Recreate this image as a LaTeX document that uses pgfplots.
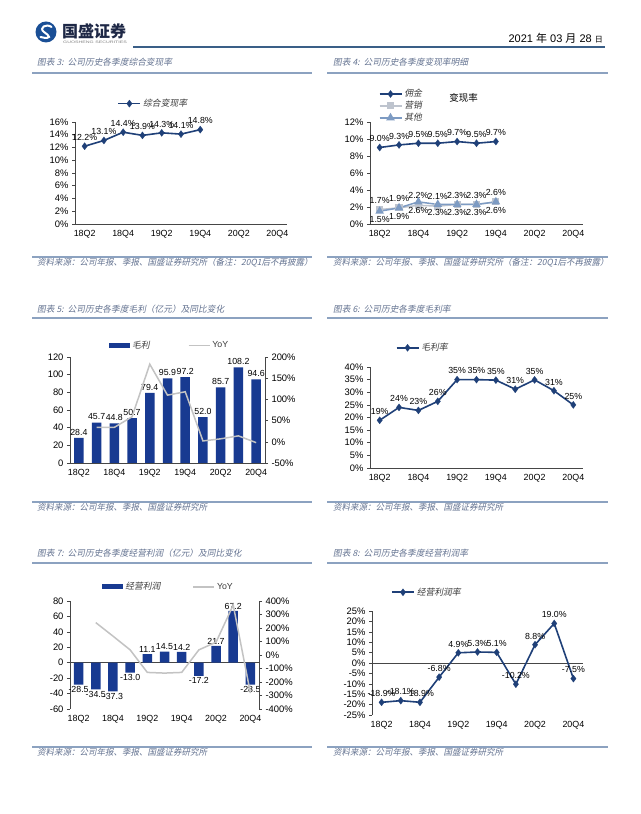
\documentclass[border=0pt]{standalone}
\usepackage{fontspec}
\usepackage{pgfplots}
\pgfplotsset{compat=1.18}
\setmainfont{Liberation Sans}
\newfontfamily\cjk{Noto Sans CJK SC}
\newfontfamily\cjkit[FakeSlant=0.2]{Noto Sans CJK SC}
\pgfkeys{/pgf/number format/assume math mode=true}

\definecolor{navy}{RGB}{31,64,120}
\definecolor{barblue}{RGB}{24,58,145}
\definecolor{yoygray}{RGB}{195,195,195}
\definecolor{mktgray}{RGB}{190,196,206}
\definecolor{othblue}{RGB}{125,155,195}
\definecolor{ttl}{RGB}{100,115,145}
\definecolor{rulec}{RGB}{140,162,192}
\definecolor{hdr}{RGB}{58,95,135}
\definecolor{axgray}{RGB}{70,70,70}
\definecolor{logoblue}{RGB}{26,79,150}
\definecolor{legtxt}{RGB}{60,60,60}

\pgfplotsset{
  qbase/.style={
    scale only axis, anchor=south west, clip=false,
    xmin=-0.5, xmax=10.5,
    xtick={0,2,...,10},
    xticklabels={18Q2,18Q4,19Q2,19Q4,20Q2,20Q4},
    axis x line*=bottom, axis y line*=left,
    tick align=outside, major tick length=3pt,
    xtick style={draw=none},
    ytick style={draw=axgray, line width=0.5pt},
    axis line style={draw=axgray, line width=0.6pt},
    yticklabel style={font=\fontsize{9.4}{10}\selectfont},
    xticklabel style={font=\fontsize{8.9}{10}\selectfont},
    legend style={draw=none, fill=none, inner sep=0pt,
      font=\cjkit\fontsize{8.8}{10}\selectfont\color{legtxt}},
    legend cell align=left,
    every node near coord/.append style={font=\fontsize{8.8}{10}\selectfont, text=black, inner sep=1.5pt},
  },
  qright/.style={
    scale only axis, anchor=south west, clip=false,
    xmin=-0.5, xmax=10.5, axis x line=none, axis y line*=right,
    tick align=outside, major tick length=3pt,
    ytick style={draw=axgray, line width=0.5pt},
    axis line style={draw=axgray, line width=0.6pt},
    yticklabel style={font=\fontsize{9.4}{10}\selectfont},
  },
  pct/.style={yticklabel={\pgfmathprintnumber[fixed,precision=0]{\tick}\%}},
  navyline/.style={draw=navy, line width=1.6pt, mark=diamond*, mark size=3.6pt,
    mark options={fill=navy, draw=navy, line width=0.2pt}},
  yoy/.style={draw=yoygray, line width=1.5pt, mark=none},
  lineleg/.style={legend image code/.code={\draw[mark repeat=2,mark phase=2,##1] plot coordinates {(0pt,0pt) (11pt,0pt) (22pt,0pt)};}},
  yoyleg/.style={legend image code/.code={\draw[##1] (0pt,0pt) -- (21pt,0pt);}},
  barleg/.style={legend image code/.code={\fill[##1] (0pt,-2.5pt) rectangle (21pt,2.5pt);}},
  up/.style={every node near coord/.append style={anchor=south, yshift=4pt}},
  pct1/.style={nodes near coords={\pgfmathprintnumber[fixed,fixed zerofill,precision=1]{\pgfplotspointmeta}\%}},
  pct0/.style={nodes near coords={\pgfmathprintnumber[fixed,precision=0]{\pgfplotspointmeta}\%}},
  num1/.style={nodes near coords={\pgfmathprintnumber[fixed,fixed zerofill,precision=1]{\pgfplotspointmeta}}},
}

\tikzset{
  ttlnode/.style={anchor=west, inner sep=0pt, text=ttl, font=\cjkit\fontsize{8.7}{9}\selectfont},
  srcnode/.style={anchor=west, inner sep=0pt, text=ttl, font=\cjkit\fontsize{8.5}{9}\selectfont},
  rule/.style={draw=rulec, line width=1.1pt},
}

\begin{document}
\begin{tikzpicture}[x=1pt,y=1pt]
\fill[white] (0,0) rectangle (640,814);
\useasboundingbox (0,0) rectangle (640,814);

% header
\fill[logoblue] (46,782) circle (10.5);
\draw[white, line width=2pt, line cap=round]
  (51.5,787) .. controls (46,791) and (38.5,786) .. (44,782)
  .. controls (49.5,778.5) and (53,774) .. (40.5,777);
\node[anchor=west, inner sep=0pt, text={rgb,255:red,30;green,40;blue,70},
  font=\cjk\bfseries\fontsize{16}{17}\selectfont] at (62,783) {国盛证券};
\node[anchor=west, inner sep=0pt, text=gray, font=\fontsize{3.5}{4}\selectfont]
  at (63,772) {\scalebox{1.5}[1]{GUOSHENG SECURITIES}};
\draw[hdr, line width=1.5pt] (133,767) -- (605,767);
\node[anchor=east, inner sep=0pt, font=\fontsize{11}{12}\selectfont]
  at (603,776) {2021 {\cjk 年} 03 {\cjk 月} 28 {\fontsize{8}{9}\selectfont\cjk 日}};

% section rules and texts
\node[ttlnode] at (37,752) {图表 3:\ \ 公司历史各季度综合变现率};
\node[ttlnode] at (333,752) {图表 4:\ \ 公司历史各季度变现率明细};
\draw[rule] (32,741) -- (312,741);
\draw[rule] (327,741) -- (608,741);
\draw[rule] (32,557) -- (312,557);
\draw[rule] (327,557) -- (608,557);
\node[srcnode] at (37,551.5) {资料来源：公司年报、季报、国盛证券研究所（备注：20Q1后不再披露）};
\node[srcnode] at (333,551.5) {资料来源：公司年报、季报、国盛证券研究所（备注：20Q1后不再披露）};

\node[ttlnode] at (37,505) {图表 5:\ \ 公司历史各季度毛利（亿元）及同比变化};
\node[ttlnode] at (333,505) {图表 6:\ \ 公司历史各季度毛利率};
\draw[rule] (32,496) -- (312,496);
\draw[rule] (327,496) -- (608,496);
\draw[rule] (32,312) -- (312,312);
\draw[rule] (327,312) -- (608,312);
\node[srcnode] at (37,306.5) {资料来源：公司年报、季报、国盛证券研究所};
\node[srcnode] at (333,306.5) {资料来源：公司年报、季报、国盛证券研究所};

\node[ttlnode] at (37,261) {图表 7:\ \ 公司历史各季度经营利润（亿元）及同比变化};
\node[ttlnode] at (333,261) {图表 8:\ \ 公司历史各季度经营利润率};
\draw[rule] (32,251) -- (312,251);
\draw[rule] (327,251) -- (608,251);
\draw[rule] (32,67) -- (312,67);
\draw[rule] (327,67) -- (608,67);
\node[srcnode] at (37,61.5) {资料来源：公司年报、季报、国盛证券研究所};
\node[srcnode] at (333,61.5) {资料来源：公司年报、季报、国盛证券研究所};

% chart 3
\begin{axis}[qbase, pct, at={(75pt,590pt)}, width=212pt, height=102pt,
  ymin=0, ymax=16, ytick={0,2,...,16},
  legend style={at={(0.2,1.18)}, anchor=west}]
\addplot[navyline, lineleg, pct1, up] coordinates {
  (0,12.2) (1,13.1) (2,14.4) (3,13.9) (4,14.3) (5,14.1) (6,14.8)};
\addlegendentry{综合变现率}
\end{axis}

% chart 4
\begin{axis}[qbase, pct, at={(370pt,590pt)}, width=213pt, height=102pt,
  ymin=0, ymax=12, ytick={0,2,...,12},
  legend style={at={(0.04,1.34)}, anchor=north west, row sep=-1pt}]
\addplot[navyline, lineleg, pct1, up] coordinates {
  (0,9.0) (1,9.3) (2,9.5) (3,9.5) (4,9.7) (5,9.5) (6,9.7)};
\addlegendentry{佣金}
\addplot[draw=mktgray, line width=1.5pt, mark=square*, mark size=2.8pt,
  mark options={fill=mktgray, draw=mktgray}, lineleg, pct1, up] coordinates {
  (0,1.7) (1,1.9) (2,2.2) (3,2.1) (4,2.3) (5,2.3) (6,2.6)};
\addlegendentry{营销}
\addplot[draw=othblue, line width=1.5pt, mark=triangle*, mark size=3.5pt,
  mark options={fill=othblue, draw=othblue}, lineleg, pct1,
  every node near coord/.append style={anchor=north, yshift=-3pt}] coordinates {
  (0,1.5) (1,1.9) (2,2.6) (3,2.3) (4,2.3) (5,2.3) (6,2.6)};
\addlegendentry{其他}
\node[font=\cjk\fontsize{9.5}{10}\selectfont] at (axis description cs:0.44,1.235) {变现率};
\end{axis}

% chart 5
\begin{axis}[qbase, at={(70pt,351pt)}, width=195pt, height=106pt,
  ymin=0, ymax=120, ytick={0,20,...,120}, ybar, bar width=9.5pt,
  every node near coord/.append style={yshift=1pt},
  legend columns=2,
  legend style={at={(0.2,1.11)}, anchor=west,
    /tikz/every even column/.append style={column sep=36pt}}]
\addplot[fill=barblue, draw=none, barleg, num1] coordinates {
  (0,28.4) (1,45.7) (2,44.8) (3,50.7) (4,79.4) (5,95.9) (6,97.2)
  (7,52.0) (8,85.7) (9,108.2) (10,94.6)};
\addlegendentry{毛利}
\addlegendimage{yoy, yoyleg}
\addlegendentry{\rmfamily\upshape YoY}
\end{axis}
\begin{axis}[qright, pct, at={(70pt,351pt)}, width=195pt, height=106pt,
  ymin=-50, ymax=200, ytick={-50,0,...,200}]
\addplot[yoy] coordinates {
  (1,34) (2,34) (3,59) (4,183) (5,110) (6,118) (7,2) (8,7) (9,14) (10,-2)};
\end{axis}

% chart 6
\begin{axis}[qbase, pct, at={(370pt,346pt)}, width=213pt, height=101pt,
  ymin=0, ymax=40, ytick={0,5,...,40},
  legend style={at={(0.12,1.19)}, anchor=west}]
\addplot[navyline, lineleg, pct0, up] coordinates {
  (0,18.9) (1,24.0) (2,22.8) (3,26.4) (4,35.0) (5,35.0) (6,34.8)
  (7,31.2) (8,34.9) (9,30.6) (10,25.0)};
\addlegendentry{毛利率}
\end{axis}

% chart 7
\begin{axis}[qbase, at={(70pt,105pt)}, width=189pt, height=108pt,
  ymin=-60, ymax=80, ytick={-60,-40,...,80}, ybar, bar width=9.5pt,
  x axis line style={draw=none},
  extra y ticks={0}, extra y tick labels={},
  extra y tick style={grid=major, major grid style={draw=axgray, line width=0.6pt}},
  nodes near coords align={vertical},
  legend columns=2,
  legend style={at={(0.17,1.13)}, anchor=west,
    /tikz/every even column/.append style={column sep=30pt}}]
\addplot[fill=barblue, draw=none, barleg, num1] coordinates {
  (0,-28.5) (1,-34.5) (2,-37.3) (3,-13.0) (4,11.1) (5,14.5) (6,14.2)
  (7,-17.2) (8,21.7) (9,67.2) (10,-28.5)};
\addlegendentry{经营利润}
\addlegendimage{yoy, yoyleg}
\addlegendentry{\rmfamily\upshape YoY}
\end{axis}
\begin{axis}[qright, pct, at={(70pt,105pt)}, width=189pt, height=108pt,
  ymin=-400, ymax=400, ytick={-400,-300,...,400}]
\addplot[yoy] coordinates {
  (1,240) (2,140) (3,38) (4,-129) (5,-134) (6,-129) (7,38) (8,95) (9,370) (10,-282)};
\end{axis}

% chart 8
\begin{axis}[qbase, pct, at={(372pt,99pt)}, width=211pt, height=104pt,
  ymin=-25, ymax=25, ytick={-25,-20,...,25},
  x axis line style={draw=none},
  extra y ticks={0}, extra y tick labels={},
  extra y tick style={grid=major, major grid style={draw=axgray, line width=0.6pt}},
  legend style={at={(0.09,1.18)}, anchor=west}]
\addplot[navyline, lineleg, pct1, up] coordinates {
  (0,-18.9) (1,-18.1) (2,-18.9) (3,-6.8) (4,4.9) (5,5.3) (6,5.1)
  (7,-10.2) (8,8.8) (9,19.0) (10,-7.5)};
\addlegendentry{经营利润率}
\end{axis}

\end{tikzpicture}
\end{document}
